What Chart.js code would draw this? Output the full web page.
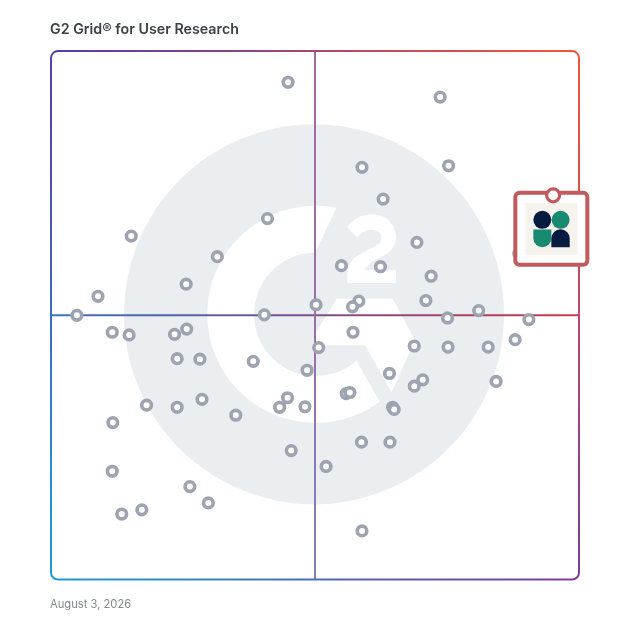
<!DOCTYPE html>
<html><head><meta charset="utf-8">
<style>html,body{margin:0;padding:0;background:#fff}canvas{display:block}</style>
<script src="https://cdn.jsdelivr.net/npm/chart.js@4"></script>
</head><body><canvas id="c" width="628" height="628"></canvas>
<script>
const chartTitle = "G2 Grid® for User Research";
const chartDate = "August 3, 2026";
const productsX = [44.9,73.7,58.9,75.3,62.9,41.0,15.2,69.3,31.5,55.0,62.4,72.0,25.6,8.9,71.0,50.2,58.3,57.1,81.0,40.4,4.9,75.1,90.5,11.6,14.8,23.4,25.7,57.2,87.9,68.8,75.2,82.8,50.7,23.9,28.2,38.3,48.5,64.1,84.3,70.4,68.8,55.9,56.6,44.8,28.6,18.1,23.9,43.3,48.1,64.7,65.0,35.0,11.7,58.8,64.2,45.5,52.1,11.6,26.3,29.8,17.2,13.4,58.9,88.6];
const productsY = [94.1,91.3,78.0,78.3,72.0,68.3,65.0,63.8,61.1,59.4,59.2,57.4,55.9,53.6,52.8,52.0,52.7,51.6,50.9,50.1,50.0,49.5,49.2,46.8,46.3,46.4,47.4,46.8,45.4,44.2,44.0,44.0,43.9,41.8,41.7,41.3,39.6,39.0,37.5,37.8,36.6,35.2,35.4,34.4,34.1,33.0,32.6,32.6,32.7,32.6,32.2,31.1,29.7,26.0,26.0,24.4,21.4,20.5,17.6,14.5,13.2,12.4,9.2,61.7];
const featuredX = [95.1];
const featuredY = [72.7];
const grey = "#9ea3b1", red = "#c15a5d", wm = "#ebeef1", navy = "#051c40", green = "#178a6f", tile = "#f6f3ef";

function rr(ctx,x,y,w,h,r){ctx.beginPath();ctx.roundRect(x,y,w,h,r);}

const decor = {
  id:"decor",
  beforeDatasetsDraw(chart){
    const {ctx,chartArea:a,scales:{x,y}} = chart;
    const lx=x.getPixelForValue(50), ly=y.getPixelForValue(50);
    const left=x.getPixelForValue(0), right=x.getPixelForValue(100);
    const cx=lx-1, cy=ly-1;
    ctx.save();
    ctx.fillStyle=wm; ctx.beginPath(); ctx.arc(cx,cy,190,0,Math.PI*2); ctx.fill();
    // G ring
    const gx=cx+1.7, R=108.5, r=61.7;
    const outA=Math.atan2(-107.3,21), outB=Math.atan2(87.7,64.3);
    const inA=Math.atan2(-62,-0.7), inB=Math.atan2(46.7,41);
    ctx.fillStyle="#fff"; ctx.beginPath();
    ctx.arc(gx,cy,R,outA,outB,true);
    ctx.arc(gx,cy,r,inB,inA,false);
    ctx.closePath(); ctx.fill();
    // chevron
    const pts=[[22.7,-15.7],[78.7,-15.7],[101,26],[77.7,77.7],[51,31],[1,31],[1,20]];
    ctx.beginPath();pts.forEach((p,i)=>i?ctx.lineTo(cx+p[0],cy+p[1]):ctx.moveTo(cx+p[0],cy+p[1]));ctx.closePath();ctx.fill();
    // the logo's "2"
    ctx.save();ctx.translate(cx,cy);ctx.beginPath();
    ctx.moveTo(33.3,-87.3);
    ctx.bezierCurveTo(38,-95,48,-100,57.7,-100);
    ctx.bezierCurveTo(72,-100,82,-90,82,-77.3);
    ctx.bezierCurveTo(82,-62,66,-57,57,-52);
    ctx.lineTo(50,-44);ctx.lineTo(82,-44);ctx.lineTo(82,-31.3);ctx.lineTo(33.3,-31.3);ctx.lineTo(33.3,-41.3);
    ctx.bezierCurveTo(33.3,-55,46,-60,55,-65);
    ctx.bezierCurveTo(63,-69,67.7,-71,67.7,-77.3);
    ctx.bezierCurveTo(67.7,-81,63,-84.7,57.7,-84.7);
    ctx.bezierCurveTo(52,-84.7,47,-82,43.3,-76.7);
    ctx.closePath();ctx.fill();ctx.restore();
    ctx.restore();
    // centre cross lines
    const h=ctx.createLinearGradient(left,0,right,0);
    h.addColorStop(0,"#3a72c4");h.addColorStop(.5,"#7c4f8c");h.addColorStop(1,"#c83a48");
    const v=ctx.createLinearGradient(0,a.top,0,a.bottom);
    v.addColorStop(0,"#a8699f");v.addColorStop(.5,"#9a6fa8");v.addColorStop(1,"#7f7fc6");
    ctx.save();ctx.lineWidth=2;
    ctx.strokeStyle=h;ctx.beginPath();ctx.moveTo(left,ly);ctx.lineTo(right,ly);ctx.stroke();
    ctx.strokeStyle=v;ctx.beginPath();ctx.moveTo(lx,a.top);ctx.lineTo(lx,a.bottom);ctx.stroke();
    // frame
    const mx=(left+right)/2,my=(a.top+a.bottom)/2;
    const g=ctx.createConicGradient(-Math.PI/4,mx,my);
    g.addColorStop(0,"#f4533a");g.addColorStop(.25,"#7d3e9a");g.addColorStop(.5,"#1f9ad6");g.addColorStop(.75,"#5a3ca8");g.addColorStop(1,"#f4533a");
    ctx.strokeStyle=g;ctx.lineWidth=2;rr(ctx,left,a.top,right-left,a.bottom-a.top,7);ctx.stroke();
    ctx.restore();
  },
  afterDatasetDraw(chart,args){
    if(args.index!==1) return;
    const {ctx,scales:{x,y}}=chart;
    const px=x.getPixelForValue(featuredX[0]), py=y.getPixelForValue(featuredY[0]);
    const l=px-37.8, t=py-2.5;
    ctx.save();
    ctx.fillStyle="#fff";ctx.strokeStyle=red;ctx.lineWidth=4;
    rr(ctx,l,t,72,72,4);ctx.fill();ctx.stroke();
    ctx.fillStyle=tile;ctx.fillRect(l+10,t+10,52,52);
    const ox=l+36, oy=t+27;
    ctx.fillStyle=navy;ctx.beginPath();ctx.arc(ox-9,oy,9,0,Math.PI*2);ctx.fill();
    ctx.fillStyle=green;ctx.beginPath();ctx.arc(ox+9.3,oy,9,0,Math.PI*2);ctx.fill();
    ctx.beginPath();ctx.moveTo(ox-18,oy+9.6);ctx.lineTo(ox,oy+9.6);ctx.lineTo(ox,oy+18.3);ctx.arc(ox-9,oy+18.3,9,0,Math.PI);ctx.closePath();ctx.fill();
    ctx.fillStyle=navy;ctx.beginPath();ctx.moveTo(ox,oy+27.3);ctx.lineTo(ox,oy+18.6);ctx.arc(ox+9.2,oy+18.6,9.2,Math.PI,0);ctx.lineTo(ox+18.4,oy+27.3);ctx.closePath();ctx.fill();
    ctx.restore();
  }
};

new Chart(document.getElementById("c"),{
  type:"scatter",
  data:{datasets:[
    {label:"Featured",data:featuredX.map((v,i)=>({x:v,y:featuredY[i]})),pointRadius:6.5,pointBorderWidth:3.2,pointBorderColor:red,pointBackgroundColor:"#fff",clip:false},
    {label:"Products",data:productsX.map((v,i)=>({x:v,y:productsY[i]})),pointRadius:4.8,pointBorderWidth:3.6,pointBorderColor:grey,pointBackgroundColor:"#fff",clip:false}
  ]},
  options:{
    responsive:false,animation:false,
    layout:{padding:{left:50,right:49,top:21,bottom:17}},
    scales:{
      x:{type:"linear",min:-0.19,max:100,display:false},
      y:{type:"linear",min:0,max:100,display:false}
    },
    plugins:{
      legend:{display:false},tooltip:{enabled:false},
      title:{display:true,text:chartTitle,align:"start",color:"#3d3f44",padding:{top:0,bottom:13},font:{family:"Inter",size:14.25,weight:"600",lineHeight:1.2}},
      subtitle:{display:true,text:chartDate,position:"bottom",align:"start",color:"#85878c",padding:{top:18,bottom:0},font:{family:"Inter",size:11.2,lineHeight:1.2}}
    }
  },
  plugins:[decor]
});
</script></body></html>
